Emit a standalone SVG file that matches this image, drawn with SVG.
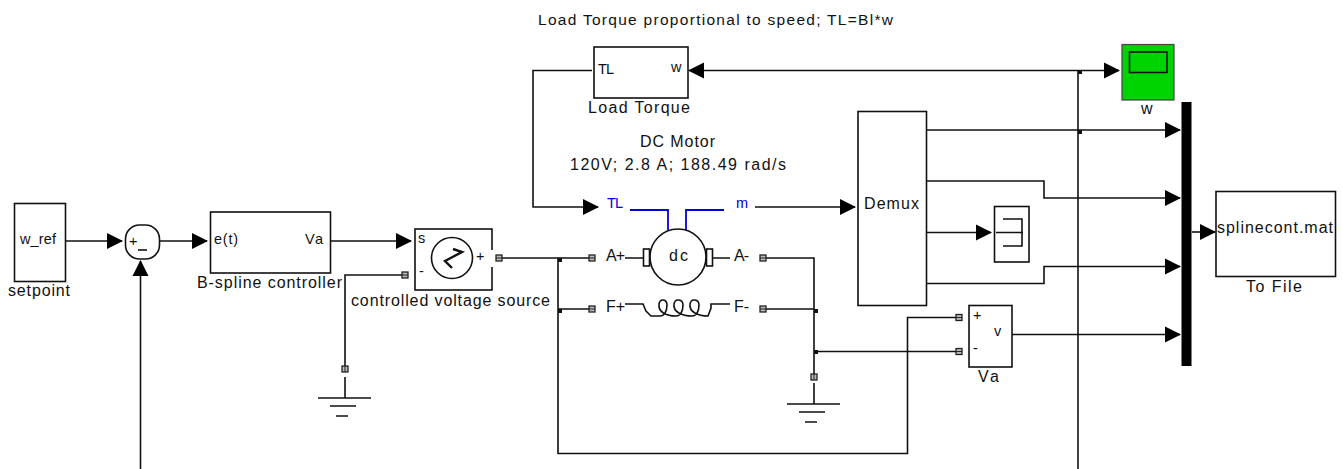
<svg xmlns="http://www.w3.org/2000/svg" width="1343" height="469" viewBox="0 0 1343 469">
<style>
text{font-family:"Liberation Sans",Arial,sans-serif;font-size:16px;fill:#111}
.s{font-size:14.5px}
.c{font-size:15.5px}
.b{fill:#fff;stroke:#111;stroke-width:1.6}
.l{fill:none;stroke:#111;stroke-width:1.6}
.a{fill:none;stroke:#111;stroke-width:1.6;marker-end:url(#arrow)}
.u{fill:none;stroke:#0000dd;stroke-width:1.8}
text.blue{fill:#0000dd}
.j{fill:#111}
</style>
<defs>
<marker id="arrow" markerUnits="userSpaceOnUse" markerWidth="17" markerHeight="18" viewBox="0 0 17 18" refX="15" refY="9" orient="auto"><path d="M0 1L16 9L0 17Z" fill="#000"/></marker>
<g id="port"><rect x="-3" y="-3" width="6" height="6" fill="#bbb" stroke="#222" stroke-width="1.3"/><path d="M-3 0H3" stroke="#222" stroke-width="1"/></g>
<g id="vport"><rect x="-3" y="-3" width="6" height="6" fill="#bbb" stroke="#222" stroke-width="1.3"/><path d="M0 -3V3" stroke="#222" stroke-width="1"/></g>
<g id="ground"><path class="l" d="M0 0V21M-27 21H26M-15 29H11M-9 39H3"/></g>
</defs>

<g id="connectors">
<path class="a" d="M65 241H122"/>
<path class="a" d="M160 241H207"/>
<path class="a" d="M330 241H411"/>
<path class="a" d="M140.500 469V261"/>
<path class="a" d="M1078 70.500H689"/>
<path class="a" d="M1078 70.500H1119"/>
<path class="l" d="M1078 70.500V469"/>
<path class="a" d="M592 70.500H533V207H598"/>
<path class="a" d="M755 207H855"/>
<path class="a" d="M927 130H1180"/>
<path class="a" d="M927 181H1044V198H1180"/>
<path class="a" d="M927 232.500H991"/>
<path class="a" d="M927 283.500H1044V266.500H1180"/>
<path class="a" d="M1012 334.500H1180"/>
<path class="a" d="M1192 232H1215"/>
<path class="l" d="M405 275H345V366"/>
<path class="l" d="M502 258H589M558 258V453.500H907.500V317.500H956M558 309H589"/>
<path class="l" d="M766 258H814V374M766 309H814M814 351.500H956"/>
<rect class="j" x="1078" y="70" width="4" height="4"/>
<rect class="j" x="1078" y="130" width="4" height="4"/>
<rect class="j" x="558" y="258" width="4" height="4"/>
<rect class="j" x="558" y="309" width="4" height="4"/>
<rect class="j" x="814" y="309" width="4" height="4"/>
<rect class="j" x="814" y="350" width="4" height="4"/>
</g>

<g id="caption"><text x="538" y="25" textLength="355" class="c">Load Torque proportional to speed; TL=Bl*w</text></g>

<g id="setpoint">
<rect class="b" x="14.500" y="203.500" width="51" height="78"/>
<text x="20" y="244" class="s" textLength="36">w_ref</text>
<text x="8" y="296" textLength="62">setpoint</text>
</g>

<g id="sum">
<rect class="b" x="125.500" y="225" width="34" height="34" rx="14"/>
<text x="129" y="246" class="s">+</text>
<path class="l" d="M138 250H147"/>
</g>

<g id="controller">
<rect class="b" x="210.500" y="212" width="120" height="61"/>
<text x="214" y="244" class="s" textLength="24">e(t)</text>
<text x="305" y="244" class="s" textLength="18">Va</text>
<text x="197" y="288" textLength="145">B-spline controller</text>
</g>

<g id="voltage-source">
<rect class="b" x="415" y="229" width="77" height="61"/>
<rect x="488" y="250" width="8" height="17" fill="#fff"/>
<circle class="l" cx="452" cy="258" r="20.500"/>
<path d="M453 249L462 252L445 261L452 268" fill="none" stroke="#111" stroke-width="2.400"/>
<text x="418" y="243" class="s">s</text>
<text x="419" y="276" class="s">-</text>
<text x="476" y="261" class="s">+</text>
<use href="#port" x="499" y="258"/>
<use href="#port" x="405" y="275"/>
<text x="351" y="306" textLength="199">controlled voltage source</text>
</g>

<g id="ground-left">
<use href="#vport" x="345" y="369"/>
<use href="#ground" x="345" y="377"/>
</g>

<g id="load-torque">
<rect class="b" x="594" y="47" width="94" height="51"/>
<text x="598" y="74" class="s" textLength="16">TL</text>
<text x="671" y="72" class="s" textLength="11">w</text>
<text x="588" y="113" textLength="102">Load Torque</text>
</g>

<g id="dc-motor">
<text x="640" y="147" textLength="75">DC Motor</text>
<text x="570" y="170" textLength="216">120V;  2.8 A;  188.49 rad/s</text>
<text x="607" y="208" class="s blue" textLength="16">TL</text>
<text x="736" y="208" class="s blue" textLength="13">m</text>
<path class="u" d="M630 210H668V230M724 210H686V230"/>
<circle class="l" cx="678" cy="257" r="28"/>
<rect class="b" x="643.500" y="249" width="6" height="17"/>
<rect class="b" x="706.500" y="249" width="6" height="17"/>
<path class="l" d="M625 258H643M713 258H730"/>
<text x="606" y="261" textLength="19">A+</text>
<text x="734" y="261" textLength="15">A-</text>
<text x="669" y="261" textLength="19">dc</text>
<text x="606" y="312" textLength="19">F+</text>
<text x="734" y="312" textLength="15">F-</text>
<path class="l" d="M625 304H643L646 311L651 316H660C664 316 667 312 667 305C667 299 660 298 659 304C658 312 666 316 676 316C680 316 683 312 683 305C683 299 675 298 674 304C673 312 682 316 692 316C696 316 699 312 699 305C699 299 691 298 690 304C689 312 698 316 708 316L711 308V304H730"/>
<use href="#port" x="592" y="258"/>
<use href="#port" x="592" y="309"/>
<use href="#port" x="763" y="258"/>
<use href="#port" x="763" y="309"/>
</g>

<g id="ground-right">
<use href="#vport" x="814" y="377"/>
<use href="#ground" x="814" y="383"/>
</g>

<g id="demux">
<rect class="b" x="858" y="111.500" width="68.500" height="194"/>
<text x="864" y="209" textLength="55">Demux</text>
</g>

<g id="scope-small">
<rect class="b" x="994.500" y="206.500" width="34.500" height="55.500"/>
<path class="l" d="M1003 219H1022V246H1003M996 232.500H1023"/>
</g>

<g id="va">
<rect class="b" x="969" y="305.500" width="43" height="61.500"/>
<text x="973" y="320" class="s">+</text>
<text x="973" y="353" class="s">-</text>
<text x="994" y="336" class="s" textLength="9">v</text>
<use href="#port" x="959" y="317.500"/>
<use href="#port" x="959" y="351.500"/>
<text x="978" y="382" textLength="21">Va</text>
</g>

<g id="scope-w">
<rect x="1122" y="44.500" width="52" height="55.500" fill="#00d400" stroke="#444" stroke-width="1.200"/>
<rect x="1129.500" y="52" width="37.500" height="20.500" fill="#00d400" stroke="#111" stroke-width="1.600"/>
<text x="1141" y="114" textLength="12">w</text>
</g>

<g id="mux"><rect x="1181.500" y="102" width="10" height="264" fill="#000"/></g>

<g id="to-file">
<rect class="b" x="1216" y="191.500" width="119.500" height="85"/>
<text x="1217" y="233" textLength="116">splinecont.mat</text>
<text x="1246" y="292" textLength="56">To File</text>
</g>
</svg>
